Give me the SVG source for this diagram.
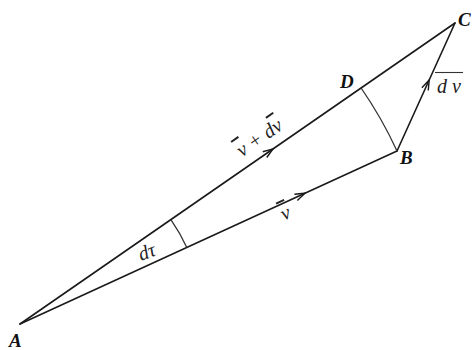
<svg xmlns="http://www.w3.org/2000/svg" width="473" height="350" viewBox="0 0 473 350">
<style>
.ln{stroke:#1a1a1a;stroke-width:1.6;fill:none;stroke-linecap:round}
.arc{stroke:#333;stroke-width:1.3;fill:none}
.ah{stroke:#1a1a1a;stroke-width:1.4;fill:none;stroke-linejoin:miter}
.lbl{font-family:"Liberation Serif",serif;font-style:italic;font-weight:bold;font-size:19px;fill:#111}
.vt{font-family:"Liberation Serif",serif;font-style:italic;font-size:20px;fill:#222}
.ov{text-decoration:overline}
</style>
<rect width="473" height="350" fill="#fff"/>
<g id="connectors">
<path class="ln" d="M20,324 L455,23"/>
<path class="ln" d="M20,324 L397,151"/>
<path class="ln" d="M397,151 L455,23"/>
<path class="ah" d="M-10,-3.5 L0,0 L-10,3.5" transform="translate(273,148.9) rotate(-34.7)"/>
<path class="ah" d="M-10,-3.5 L0,0 L-10,3.5" transform="translate(305,193.2) rotate(-24.65)"/>
<path class="ah" d="M-10,-3.5 L0,0 L-10,3.5" transform="translate(429.2,80) rotate(-65.6)"/>
<path class="arc" d="M361.1,88 A414.8,414.8 0 0 1 397,151"/>
<path class="arc" d="M170.9,219.6 A183.5,183.5 0 0 1 186.8,247.5"/>
</g>
<g id="A"><text class="lbl" x="9" y="347">A</text></g>
<g id="B"><text class="lbl" x="400" y="164">B</text></g>
<g id="C"><text class="lbl" x="458" y="26">C</text></g>
<g id="D"><text class="lbl" x="340" y="88">D</text></g>
<g id="label-v-dv"><text class="vt" text-anchor="middle" transform="translate(263,143) rotate(-34.7)"><tspan class="ov">v</tspan> + d<tspan class="ov">v</tspan></text></g>
<g id="label-v"><text class="vt" text-anchor="middle" transform="translate(288,219) rotate(-24.6)"><tspan class="ov">v</tspan></text></g>
<g id="label-dtau"><text class="vt" text-anchor="middle" transform="translate(149,258) rotate(-20)">dτ</text></g>
<g id="label-dv"><text class="vt" x="437" y="93">d v</text><path d="M435,72.5 L463,72.5" stroke="#333" stroke-width="1.1"/></g>
</svg>
